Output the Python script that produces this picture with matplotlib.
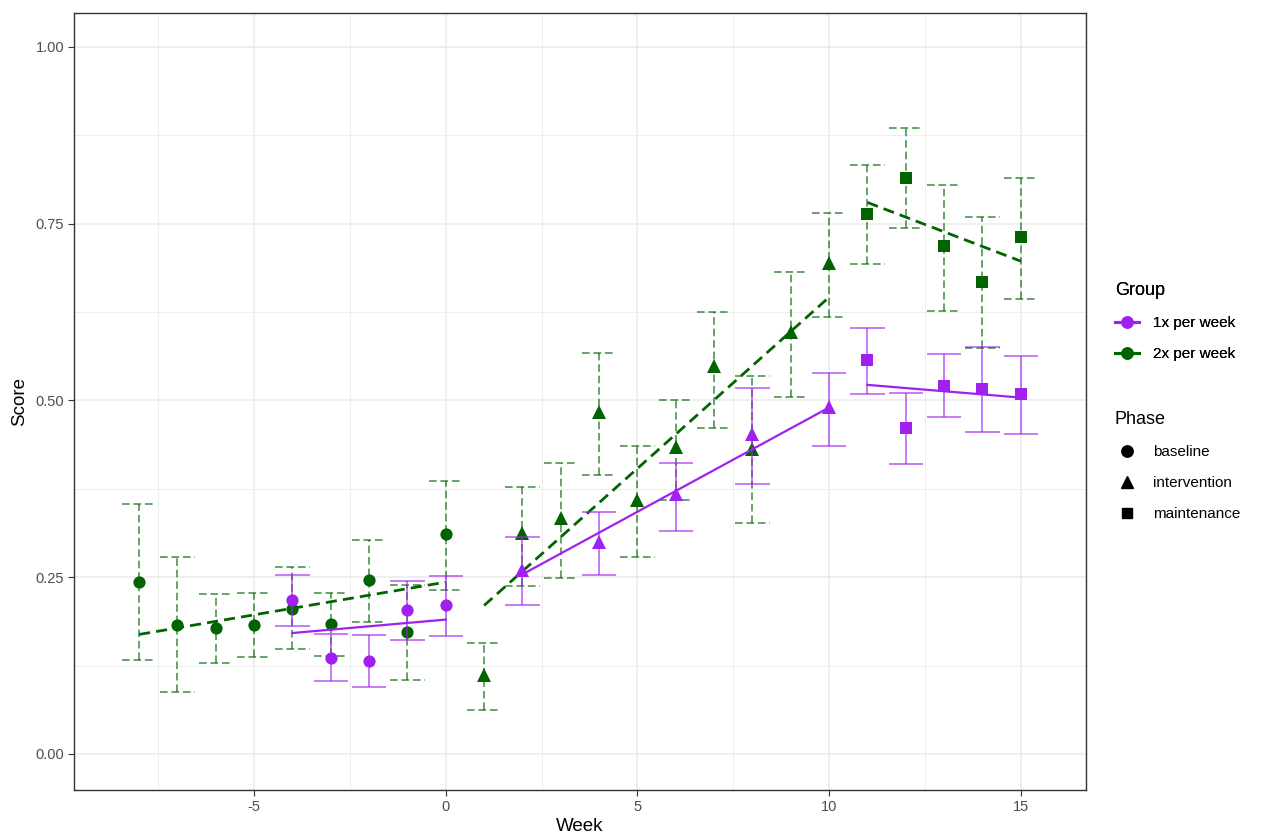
import matplotlib
matplotlib.use("Agg")
import matplotlib.pyplot as plt
from matplotlib.lines import Line2D
import numpy as np

plt.rcParams['font.family'] = ['Liberation Sans', 'DejaVu Sans']
plt.rcParams['axes.unicode_minus'] = False

# ---------------- data ----------------
weeks_2x = [-8, -7, -6, -5, -4, -3, -2, -1, 0,
            1, 2, 3, 4, 5, 6, 7, 8, 9, 10,
            11, 12, 13, 14, 15]
phase_2x = (['baseline'] * 9 + ['intervention'] * 10 + ['maintenance'] * 5)
score_2x = [0.243, 0.183, 0.178, 0.183, 0.205, 0.184, 0.246, 0.172, 0.311,
            0.112, 0.312, 0.333, 0.483, 0.359, 0.434, 0.548, 0.432, 0.597, 0.694,
            0.763, 0.815, 0.718, 0.668, 0.731]
lower_2x = [0.133, 0.087, 0.129, 0.137, 0.148, 0.139, 0.187, 0.105, 0.232,
            0.062, 0.238, 0.249, 0.395, 0.279, 0.359, 0.461, 0.326, 0.505, 0.618,
            0.693, 0.744, 0.627, 0.574, 0.644]
upper_2x = [0.354, 0.279, 0.226, 0.228, 0.264, 0.228, 0.303, 0.239, 0.386,
            0.157, 0.378, 0.412, 0.567, 0.436, 0.501, 0.625, 0.534, 0.682, 0.765,
            0.833, 0.885, 0.805, 0.760, 0.814]

weeks_1x = [-4, -3, -2, -1, 0,
            2, 4, 6, 8, 10,
            11, 12, 13, 14, 15]
phase_1x = (['baseline'] * 5 + ['intervention'] * 5 + ['maintenance'] * 5)
score_1x = [0.218, 0.136, 0.131, 0.204, 0.210,
            0.260, 0.300, 0.368, 0.453, 0.490,
            0.557, 0.461, 0.521, 0.516, 0.509]
lower_1x = [0.181, 0.103, 0.095, 0.161, 0.167,
            0.210, 0.253, 0.316, 0.382, 0.436,
            0.509, 0.410, 0.476, 0.455, 0.452]
upper_1x = [0.253, 0.170, 0.168, 0.245, 0.251,
            0.307, 0.342, 0.412, 0.518, 0.539,
            0.603, 0.511, 0.565, 0.575, 0.563]

phases = ['baseline', 'intervention', 'maintenance']
# fitted trend line values at the first and last week of each phase
trend_start_2x = [0.169, 0.210, 0.780]
trend_end_2x = [0.243, 0.646, 0.697]
trend_start_1x = [0.171, 0.254, 0.522]
trend_end_1x = [0.190, 0.490, 0.504]

group_labels = ['1x per week', '2x per week']
xticks = [-5, 0, 5, 10, 15]
yticks = [0.00, 0.25, 0.50, 0.75, 1.00]
ytick_labels = ['0.00', '0.25', '0.50', '0.75', '1.00']

# ---------------- styling ----------------
PURPLE = '#A020F0'
GREEN = '#006400'
markers = {'baseline': 'o', 'intervention': '^', 'maintenance': 's'}
msizes = {'baseline': 8.8, 'intervention': 9.6, 'maintenance': 8.4}
cap_half = 0.45

fig = plt.figure(figsize=(12.62, 8.38), dpi=100)
ax = fig.add_axes([0.0586, 0.0573, 0.8019, 0.9272])

ax.set_xlim(-9.7, 16.7)
ax.set_ylim(-0.051, 1.048)
ax.set_xticks(xticks)
ax.set_xticks([-7.5, -2.5, 2.5, 7.5, 12.5], minor=True)
ax.set_yticks(yticks)
ax.set_yticklabels(ytick_labels)
ax.set_yticks([0.125, 0.375, 0.625, 0.875], minor=True)
ax.grid(which='major', color='#EBEBEB', linewidth=1.1, zorder=0)
ax.grid(which='minor', color='#EBEBEB', linewidth=0.6, zorder=0)
ax.set_axisbelow(True)
for sp in ax.spines.values():
    sp.set_color('#333333')
    sp.set_linewidth(1.0)
ax.tick_params(which='major', colors='#333333', labelcolor='#4D4D4D',
               labelsize=10.5, length=4, width=0.8, pad=3)
ax.tick_params(which='minor', length=0)
ax.set_xlabel('Week', fontsize=13.5, color='black', labelpad=3)
ax.set_ylabel('Score', fontsize=13.5, color='black', labelpad=5)


def draw_group(weeks, phase, score, lo, hi, tstart, tend, color, ls, lw_err,
               lw_trend, dashes_err, dashes_trend, z):
    weeks = np.asarray(weeks, dtype=float)
    score = np.asarray(score)
    lo = np.asarray(lo)
    hi = np.asarray(hi)
    phase = np.asarray(phase)
    kw = dict(colors=color, linewidth=lw_err, alpha=0.75, zorder=z)
    if ls == 'dashed':
        kw['linestyles'] = [(0, dashes_err)]
    ax.vlines(weeks, lo, hi, **kw)
    ax.hlines(hi, weeks - cap_half, weeks + cap_half, **kw)
    ax.hlines(lo, weeks - cap_half, weeks + cap_half, **kw)
    for i, ph in enumerate(phases):
        m = phase == ph
        ax.plot(weeks[m], score[m], linestyle='none', marker=markers[ph],
                markersize=msizes[ph], color=color, markeredgewidth=0,
                zorder=z + 1)
        xs = [weeks[m].min(), weeks[m].max()]
        ys = [tstart[i], tend[i]]
        if ls == 'dashed':
            ax.plot(xs, ys, color=color, linewidth=lw_trend,
                    dashes=dashes_trend, zorder=z + 2)
        else:
            ax.plot(xs, ys, color=color, linewidth=lw_trend, zorder=z + 2)


draw_group(weeks_2x, phase_2x, score_2x, lower_2x, upper_2x,
           trend_start_2x, trend_end_2x, GREEN, 'dashed', 1.1, 2.0,
           (5, 2.5), (4, 2.2), 3)
draw_group(weeks_1x, phase_1x, score_1x, lower_1x, upper_1x,
           trend_start_1x, trend_end_1x, PURPLE, 'solid', 1.1, 1.6,
           None, None, 7)

# ---------------- legends ----------------
legkw = dict(loc='upper left', frameon=False, fontsize=11,
             title_fontsize=13, handlelength=1.57, handletextpad=0.9,
             alignment='left', borderpad=0, borderaxespad=0)
g_handles = [Line2D([0], [0], color=PURPLE, lw=2.2, marker='o', markersize=8),
             Line2D([0], [0], color=GREEN, lw=2.2, marker='o', markersize=8)]
leg1 = fig.legend(g_handles, group_labels, title='Group',
                  bbox_to_anchor=(0.8835, 0.6635), labelspacing=1.12, **legkw)
p_handles = [Line2D([0], [0], color='black', lw=0, marker=markers[p],
                    markersize=msizes[p] - 0.6) for p in phases]
leg2 = fig.legend(p_handles, phases, title='Phase',
                  bbox_to_anchor=(0.8835, 0.509), labelspacing=1.1, **legkw)
fig.add_artist(leg1)

fig.savefig('out.png', dpi=100)
